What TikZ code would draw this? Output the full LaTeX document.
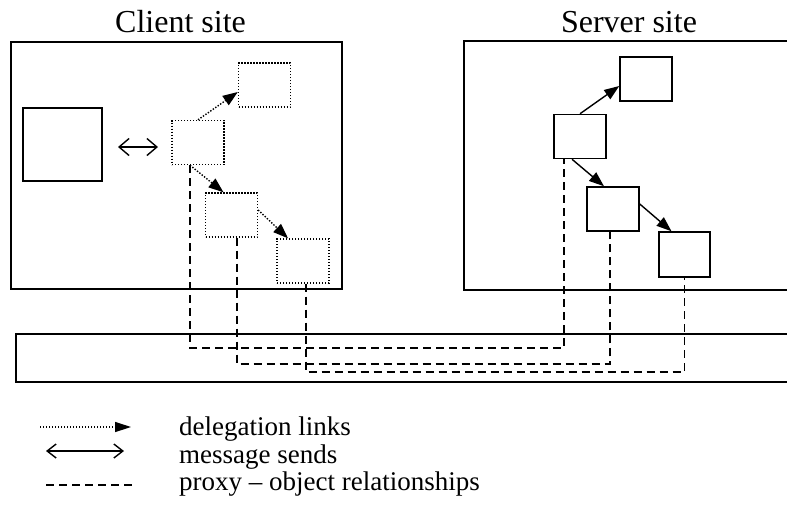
\documentclass[tikz,border=0pt]{standalone}
\usepackage{fontspec}
\setmainfont{Liberation Serif}
\usetikzlibrary{arrows.meta}
\begin{document}
\begin{tikzpicture}[x=1pt,y=-1pt,
  site/.style={draw,line width=2pt},
  obj/.style={draw,line width=1.5pt,minimum width=52pt,minimum height=44pt,inner sep=0pt},
  proxyobj/.style={obj,line width=1.4pt,dash pattern=on 1.4pt off 1.6pt},
  deleg/.style={line width=1.4pt,dash pattern=on 1.4pt off 1.6pt,-{Triangle[length=15pt,width=11pt]}},
  link/.style={line width=1.4pt,-{Triangle[length=15pt,width=11pt]}},
  msg/.style={line width=1.4pt,{Straight Barb[length=10pt,width=17pt]}-{Straight Barb[length=10pt,width=17pt]}},
  proxy/.style={line width=1.4pt,dash pattern=on 8pt off 5pt},
  title/.style={font=\fontsize{32}{38}\selectfont,anchor=base,inner sep=0pt},
  legtext/.style={font=\fontsize{27}{31}\selectfont,anchor=base west,inner sep=0pt}]
\useasboundingbox (0,0) rectangle (787,504);

% sites
\draw[site] (11,42) rectangle (342,289);
\node[title] (ct) at (180.5,32) {Client site};
\draw[site] (790,41) -- (464,41) -- (464,290) -- (790,290);
\node[title] (st) at (629,32) {Server site};

% network bar
\draw[site] (790,334) -- (16,334) -- (16,382) -- (790,382);

% client objects
\node[obj,minimum width=79pt,minimum height=73pt] (L) at (62.5,144.5) {};
\node[proxyobj] (A) at (198,142.5) {};
\node[proxyobj] (B) at (264.5,85) {};
\node[proxyobj] (C) at (231.5,215) {};
\node[proxyobj] (D) at (303,261) {};

\draw[msg] (118,147) coordinate (m1) -- (158,147) coordinate (m2);
\draw[deleg] (A.north) -- ([yshift=-7pt]B.west);
\draw[deleg] ([xshift=-8pt]A.south) -- ([xshift=-8pt]C.north);
\draw[deleg] ([yshift=5pt]C.east) -- ([xshift=-15pt]D.north);

% server objects
\node[obj] (S1) at (580,136.5) {};
\node[obj] (S2) at (646,79) {};
\node[obj] (S3) at (613,209) {};
\node[obj,minimum width=51pt,minimum height=45pt] (S4) at (684.5,254.5) {};

\draw[link] (S1.north) -- ([yshift=-7pt]S2.west);
\draw[link] ([xshift=-8pt]S1.south) -- ([xshift=-9pt]S3.north);
\draw[link] ([yshift=5pt]S3.east) -- ([xshift=-13pt]S4.north);

% proxy - object relationships
\coordinate (p1) at ([xshift=-8pt]A.south);
\coordinate (q1) at ([xshift=-16pt]S1.south);
\coordinate (p2) at ([xshift=5.5pt]C.south);
\coordinate (q2) at ([xshift=-3pt]S3.south);
\coordinate (p3) at ([xshift=3pt]D.south);
\coordinate (q3) at (S4.south);
\coordinate (h1) at (0,348);
\coordinate (h2) at (0,364);
\coordinate (h3) at (0,372);
\draw[proxy] (p1) -- (p1 |- h1) -- (q1 |- h1) -- (q1);
\draw[proxy] (p2) -- (p2 |- h2) -- (q2 |- h2) -- (q2);
\draw[proxy] (p3) -- (p3 |- h3) -- (q3 |- h3) -- (q3);

% legend
\draw[line width=1.4pt,dash pattern=on 1.4pt off 1.6pt,-{Triangle[length=16pt,width=10pt]}] (40,427) coordinate (l1a) -- (131,427) coordinate (l1b);
\draw[line width=1.4pt,{Straight Barb[length=9pt,width=14pt]}-{Straight Barb[length=9pt,width=14pt]}] (46,451) coordinate (l2a) -- (124,451) coordinate (l2b);
\draw[proxy] (46,485) coordinate (l3a) -- (133,485) coordinate (l3b);
\node[legtext] (t1) at (179,435) {delegation links};
\node[legtext] (t2) at (179,463) {message sends};
\node[legtext] (t3) at (179,490) {proxy – object relationships};
\end{tikzpicture}
\end{document}
